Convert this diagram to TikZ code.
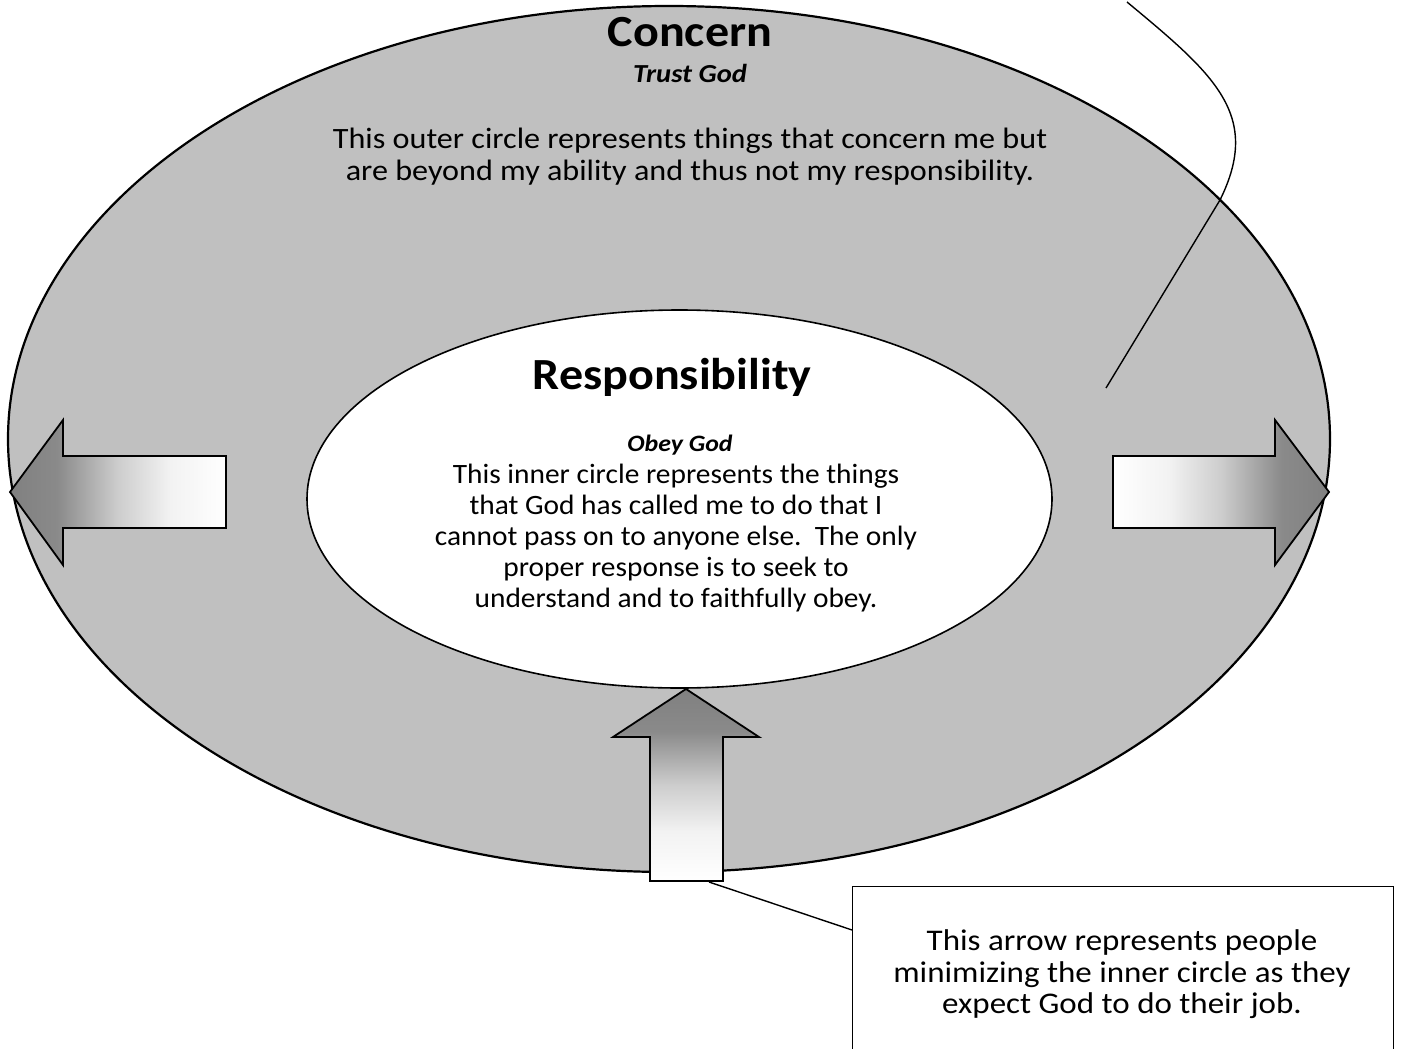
\documentclass[tikz,border=0pt]{standalone}
\usepackage{fontspec}
\setmainfont{Carlito}
\newfontfamily\headfont{Carlito}[FakeStretch=1.08]
\newfontfamily\subfont{Carlito}[FakeStretch=1.1]
\newfontfamily\outerfont{Carlito}[FakeStretch=1.09]
\newfontfamily\innerfont{Carlito}[FakeStretch=1.05]
\newfontfamily\notefont{Carlito}[FakeStretch=1.1]
\usetikzlibrary{shapes.geometric}
\definecolor{ringgray}{RGB}{192,192,192}
\definecolor{dk}{RGB}{128,128,128}
\definecolor{dkb}{RGB}{138,138,138}
\definecolor{md}{RGB}{205,205,205}
\definecolor{lt}{RGB}{242,242,242}
\pgfdeclarehorizontalshading{darkleft}{100bp}{color(0bp)=(dk); color(25bp)=(dk); color(36bp)=(dkb); color(50bp)=(md); color(62bp)=(lt); color(75bp)=(white); color(100bp)=(white)}
\tikzset{
  ring/.style={draw=black, line width=2.2pt, fill=ringgray, ellipse, inner sep=0pt},
  core/.style={draw=black, line width=1.6pt, fill=white, ellipse, inner sep=0pt},
  bigarrow/.style={draw=black, line width=1.8pt, line join=miter, shading=darkleft},
  conn/.style={draw=black, line width=1.4pt},
  txt/.style={anchor=base, inner sep=0pt},
  headtext/.style={txt, font=\headfont\fontsize{44.5}{50}\selectfont\bfseries},
  subtext/.style={txt, font=\subfont\fontsize{26}{30}\selectfont\bfseries\itshape},
  outertext/.style={txt, font=\outerfont\fontsize{29.5}{32}\selectfont},
  innertext/.style={txt, font=\innerfont\fontsize{28}{31}\selectfont},
  notetext/.style={txt, font=\notefont\fontsize{30}{31.5}\selectfont},
}
\begin{document}
\begin{tikzpicture}[x=1pt,y=-1pt]
\useasboundingbox (0,0) rectangle (1403,1049);
\clip (0,0) rectangle (1403,1049);
\fill[white] (0,0) rectangle (1403,1049);

% outer and inner ellipses
\node[ring, minimum width=1322pt, minimum height=866pt] (outer) at (669,439) {};
\node[core, minimum width=745pt, minimum height=378pt] (inner) at (679.5,499) {};

% outer text
\node[headtext] (concern) at (690,47) {Concern};
\node[subtext] (trust) at (690,82) {Trust God};
\node[outertext] (outer1) at (690,148) {This outer circle represents things that concern me but};
\node[outertext] (outer2) at (690,180) {are beyond my ability and thus not my responsibility.};

% inner text
\node[headtext] (resp) at (672,389) {Responsibility};
\node[subtext, font=\subfont\fontsize{23.5}{28}\selectfont\bfseries\itshape] (obey) at (680,451) {Obey God};
\node[innertext] (inner1) at (676,483) {This inner circle represents the things};
\node[innertext] (inner2) at (676,514) {that God has called me to do that I};
\node[innertext] (inner3) at (676,545) {cannot pass on to anyone else.\ \ The only};
\node[innertext] (inner4) at (676,576) {proper response is to seek to};
\node[innertext] (inner5) at (676,607) {understand and to faithfully obey.};

% arrows
\path[bigarrow] (10,492) -- (63,420) -- (63,456) -- (226,456) -- (226,528) -- (63,528) -- (63,565) -- cycle;
\path[bigarrow, shading angle=180] (1329,492) -- (1275,420) -- (1275,456) -- (1113,456) -- (1113,528) -- (1275,528) -- (1275,565) -- cycle;
\path[bigarrow, shading angle=-90] (686,689) -- (613,737) -- (650,737) -- (650,881) -- (723,881) -- (723,737) -- (759,737) -- cycle;

% callout box
\node[draw=black, line width=1.4pt, fill=white, minimum width=541pt, minimum height=200pt, anchor=north west, inner sep=0pt] (callout) at (852,886) {};
\node[notetext] (note1) at (1122,950) {This arrow represents people};
\node[notetext] (note2) at (1122,982) {minimizing the inner circle as they};
\node[notetext] (note3) at (1122,1013) {expect God to do their job.};

% connectors
\coordinate (arrowfoot) at (709,882);
\coordinate (calloutin) at (852,930);
\draw[conn] (arrowfoot) -- (calloutin);

\coordinate (curvetop) at (1127,2);
\coordinate (curvebend) at (1220,200);
\coordinate (curveend) at (1106,388);
\draw[conn] (curvetop) .. controls (1215,75) and (1262,115) .. (curvebend) -- (curveend);
\end{tikzpicture}
\end{document}
